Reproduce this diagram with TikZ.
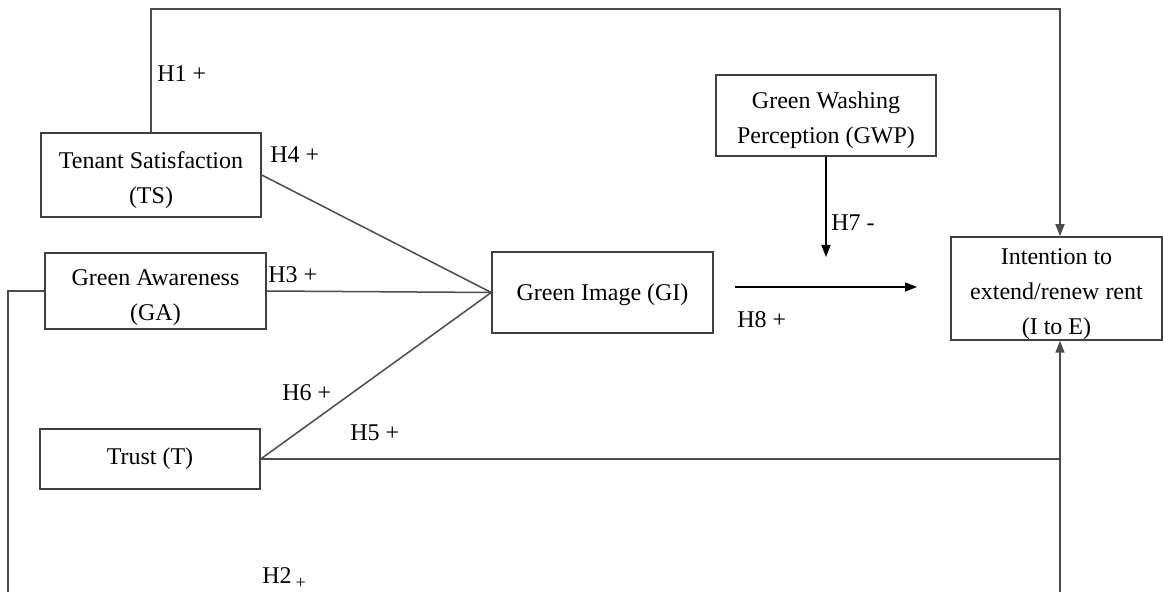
\documentclass[tikz,border=0pt]{standalone}
\usepackage{fontspec}
\setmainfont{Liberation Serif}
\usetikzlibrary{arrows.meta,calc}
% strut that lowers the text block a little inside its box
\newcommand{\toppad}[1]{\rule{0pt}{#1}}
\begin{document}
\begin{tikzpicture}[x=0.5pt,y=-0.5pt,
  every node/.style={font=\fontsize{12}{17.5}\selectfont},
  box/.style={draw=black!75,line width=0.75pt,rectangle,align=center,inner sep=0pt},
  link/.style={draw=black!70,line width=0.75pt},
  arr/.style={link,-{Triangle[length=6pt,width=4.5pt]}},
  hlabel/.style={anchor=west,inner sep=0pt}]
\useasboundingbox (0,0) rectangle (1163,592);

% constructs
\node[box,minimum width=110pt,minimum height=42pt] (TS) at (151,175) {\toppad{13.5pt}Tenant Satisfaction\\(TS)};
\node[box,minimum width=110.5pt,minimum height=38pt] (GA) at (155.5,291) {\toppad{14.5pt}Green Awareness\\(GA)};
\node[box,minimum width=110pt,minimum height=30pt] (T) at (150,459) {Trust (T)};
\node[box,minimum width=110.5pt,minimum height=40.5pt] (GI) at (602.5,292.5) {\toppad{11pt}Green Image (GI)};
\node[box,minimum width=110pt,minimum height=40.5pt] (GWP) at (826,115.5) {\toppad{13.5pt}Green Washing\\Perception (GWP)};
\node[box,minimum width=105.5pt,minimum height=51.5pt] (IE) at (1056.5,288.5) {\toppad{13.2pt}Intention to\\extend/renew rent\\(I to E)};

% routing points
\coordinate (tr) at (1060,9);
\coordinate (bl) at (8,640);
\coordinate (h8s) at (735,287);
\coordinate (h8e) at (917,287);
\coordinate (h7e) at (826,257);

% paths into the green image
\draw[link] (TS.east) -- (GI.west);
\draw[link] (GA.east) -- (GI.west);
\draw[link] (T.east) -- (GI.west);

% direct paths into the intention
\draw[arr] (TS.north) |- (tr) -- (tr |- IE.north);
\draw[link] (T.east) -- (T.east -| tr);
\begin{scope}
  \clip (0,0) rectangle (1163,592);
  \draw[arr] (GA.west) -| (bl) -| (tr |- IE.south);
\end{scope}

% mediation and moderation
\draw[arr,draw=black] (h8s) -- (h8e);
\draw[arr,draw=black] (GWP.south) -- (h7e);

% hypothesis labels
\node[hlabel] (h1) at (157,74) {H1 +};
\node[hlabel] (h4) at (270,155) {H4 +};
\node[hlabel] (h3) at (268,275) {H3 +};
\node[hlabel] (h6) at (282,393) {H6 +};
\node[hlabel] (h5) at (350,433) {H5 +};
\node[hlabel] (h8) at (737,320) {H8 +};
\node[hlabel] (h7) at (831,223) {H7 -};
\node[hlabel] (h2) at (262,578) {H2\,{\raisebox{-2.5pt}{\fontsize{9}{9}\selectfont +}}};
\end{tikzpicture}
\end{document}
